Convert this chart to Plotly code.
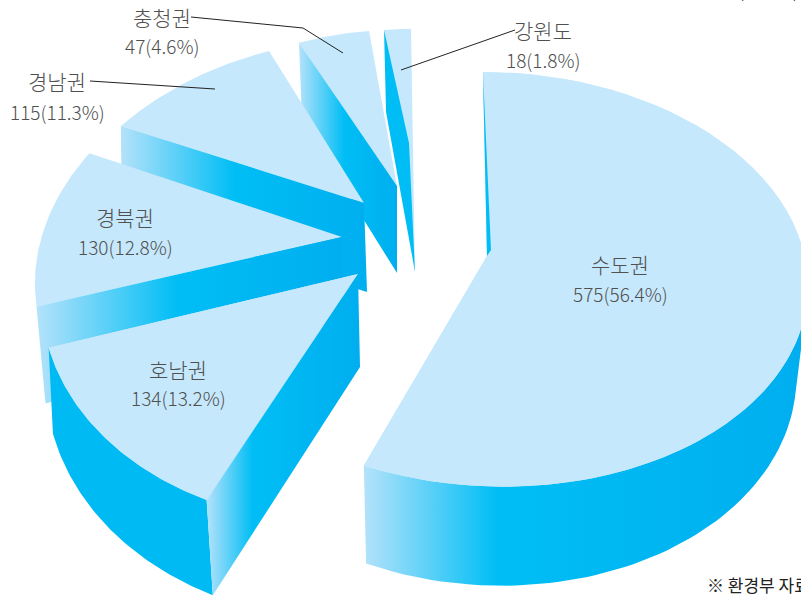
import math
import plotly.graph_objects as go

regions = ["수도권", "호남권", "경북권", "경남권", "충청권", "강원도"]
counts = [575, 134, 130, 115, 47, 18]
shares = [56.4, 13.2, 12.8, 11.3, 4.6, 1.8]

TOP = "#C6E8FC"
LIGHT = "#B4E2FA"
CYAN = "#00BEF5"
DEEP = "#00AEEF"
GRAD = [[0, LIGHT], [0.46, CYAN], [1, DEEP]]

A, B, K = 315.0, 204.0, 0.127


def model(deg):
    t = math.radians(deg)
    u, v = math.sin(t), math.cos(t)
    w = 1 + K * v
    return A * u / w, -B * v / w


def arc(p, d0, d1, n=60):
    hx, hy, sx, sy, sh = p
    out = []
    for i in range(n + 1):
        mx, my = model(d0 + (d1 - d0) * i / n)
        out.append((hx + sx * mx + sh * my, hy + sy * my))
    return out


total = sum(counts)
edges = [0.0]
for c in counts:
    edges.append(edges[-1] + 360.0 * c / total)

# Per-slice placement: rim / lower rim = (hub x, hub y, x scale, y scale, shear)
geom = {
    "수도권": dict(rim=(492, 253, 0.99, 1.0, 0.05), low=(490, 342, 0.96, 1.043, 0.05), apex=(487, 256)),
    "호남권": dict(rim=(337, 271, 0.93, 1.078, 0.0), low=(344.7, 352, 0.941, 1.145, 0.0),
                 apex=(358, 274), apex_low=(360, 367)),
    "경북권": dict(rim=(286, 237, 0.776, 0.975, -0.125), apex=(342, 237), apex_low=(343, 320), drop=(9, 97)),
    "경남권": dict(rim=(317, 204.3, 0.814, 0.911, -0.247), apex=(364, 203), apex_low=(367, 292), drop=(1, 90)),
    "충청권": dict(rim=(396.5, 211, 0.886, 1.0, 0.0), apex=(397, 186), apex_low=(397, 273), drop=(3, 78)),
    "강원도": dict(rim=(411, 210, 0.87, 1.0, 0.0), apex=(415, 272), apex_wall=(409, 143),
                 apex_low=(415, 272), drop=(2, 82)),
}

fig = go.Figure()


def poly(pts, color=None, gradient=None):
    xs = [p[0] for p in pts] + [pts[0][0]]
    ys = [p[1] for p in pts] + [pts[0][1]]
    kw = dict(x=xs, y=ys, mode="lines", fill="toself", line=dict(width=0),
              hoverinfo="skip", showlegend=False)
    if gradient:
        kw["fillgradient"] = dict(type="horizontal", colorscale=gradient)
    else:
        kw["fillcolor"] = color
    fig.add_trace(go.Scatter(**kw))


for idx in [5, 4, 3, 2, 1, 0]:
    name = regions[idx]
    g = geom[name]
    d0, d1 = edges[idx], edges[idx + 1]
    rim = arc(g["rim"], d0, d1)
    poly(rim + [g["apex"]], color=TOP)
    if idx == 0:
        wall_top = arc(g["rim"], 105, d1)
        wall_low = arc(g["low"], 105, d1)
        poly(wall_top + wall_low[::-1], gradient=[[0, LIGHT], [0.3, CYAN], [1, DEEP]])
        poly(rim + [g["apex"]], color=TOP)
        poly([rim[0], (491, 250), g["apex"]], color=CYAN)
    elif idx == 1:
        low = arc(g["low"], d0, d1)
        poly(rim + low[::-1], color="#00BBF3")
        poly(rim + [g["apex"]], color=TOP)
        poly([rim[0], g["apex"], g["apex_low"], low[0]], gradient=[[0, LIGHT], [0.3, CYAN], [1, DEEP]])
    else:
        corner = rim[0]
        dx, dy = g["drop"]
        lowc = (corner[0] + dx, corner[1] + dy)
        wall = [corner, g.get("apex_wall", g["apex"]), g["apex_low"], lowc]
        if idx == 5:
            poly(wall, color=CYAN)
        else:
            poly(wall, gradient=GRAD)

# Leader lines
leaders = [
    [(191, 17), (303, 28), (343, 53)],
    [(90, 81), (215, 89)],
    [(515, 30), (401, 70)],
]
for ln in leaders:
    fig.add_trace(go.Scatter(x=[p[0] for p in ln], y=[p[1] for p in ln], mode="lines",
                             line=dict(color="#222222", width=1), hoverinfo="skip", showlegend=False))

label_pos = {
    "수도권": (620, 264, 293),
    "호남권": (178, 369, 397),
    "경북권": (125, 217, 246),
    "경남권": (57, 81, 111),
    "충청권": (162, 17, 45),
    "강원도": (543, 30, 59),
}
FONT = "Noto Sans CJK KR"
ann = []
for name, c, s in zip(regions, counts, shares):
    x, y1, y2 = label_pos[name]
    ann.append(dict(x=x, y=y1, text=name, showarrow=False, xanchor="center", yanchor="middle",
                    font=dict(family=FONT, size=21, color="#505050", weight=300)))
    ann.append(dict(x=x, y=y2, text=f"{c}({s}%)", showarrow=False, xanchor="center", yanchor="middle",
                    font=dict(family=FONT, size=19, color="#505050", weight=300)))
ann.append(dict(x=705, y=584, text="※ 환경부 자료", showarrow=False, xanchor="left", yanchor="middle",
                font=dict(family=FONT, size=17, color="#222222")))
ann.append(dict(xref="x", x=737, yref="paper", y=1, yshift=21, text="(단위: 개)", showarrow=False,
                xanchor="left", yanchor="top", font=dict(family=FONT, size=15, color="#222222")))

fig.update_layout(
    width=801, height=597, margin=dict(l=0, r=0, t=0, b=0),
    paper_bgcolor="white", plot_bgcolor="white", annotations=ann,
    xaxis=dict(range=[0, 801], visible=False, fixedrange=True),
    yaxis=dict(range=[597, 0], visible=False, fixedrange=True),
)
fig.write_html("out.html", config={"displayModeBar": False},
               post_script="document.body.style.margin='0';document.body.style.overflow='hidden';")
